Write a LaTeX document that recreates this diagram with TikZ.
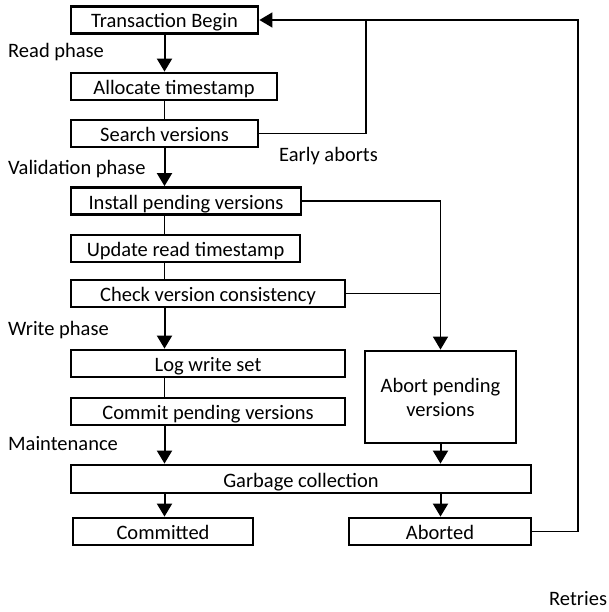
\documentclass[tikz,border=0pt]{standalone}
\usepackage{fontspec}
\setmainfont{Carlito}
\usetikzlibrary{arrows.meta}
\tikzset{
  stage/.style={draw, line width=2.8pt, inner sep=0pt, minimum height=27pt,
    text height=16pt, text depth=0pt,
    font=\fontsize{20.5}{24}\selectfont, align=center},
  phase/.style={anchor=west, inner sep=0pt, text height=16pt, text depth=0pt,
    font=\fontsize{20.5}{24}\selectfont},
  tip/.style={-{Triangle[length=13pt,width=15pt]}},
  flow/.style={line width=2pt, tip},
  link/.style={line width=1.1pt},
  back/.style={line width=1.6pt}
}

\begin{document}
\begin{tikzpicture}[x=1pt, y=-1pt]
  \useasboundingbox (0,0) rectangle (609,612);
  % main column
  \node[stage, minimum width=187pt] (tb)      at (164.5,20)  {Transaction Begin};
  \node[stage, minimum width=206pt] (alloc)   at (174,86.5)  {Allocate timestamp};
  \node[stage, minimum width=187pt] (search)  at (164.5,133.5) {Search versions};
  \node[stage, minimum width=230pt] (install) at (186,201)   {Install pending versions};
  \node[stage, minimum width=229pt] (update)  at (185.5,248.5) {Update read timestamp};
  \node[stage, minimum width=274pt] (check)   at (208,293.5) {Check version consistency};
  \node[stage, minimum width=274pt] (logw)    at (208,363.5) {Log write set};
  \node[stage, minimum width=274pt] (commit)  at (208,411.5) {Commit pending versions};
  \node[stage, minimum width=460pt, minimum height=28pt] (gc) at (301,479) {Garbage collection};
  \node[stage, minimum width=180pt] (committed) at (163,531.5) {Committed};
  % abort branch
  \node[stage, minimum width=151pt, minimum height=92pt, text height=38pt] (abortp) at (440.5,397) {Abort pending\\versions};
  \node[stage, minimum width=182pt] (aborted) at (440,531.5) {Aborted};
  % phase labels
  \node[phase] (lread)  at (8,50)   {Read phase};
  \node[phase] (lvalid) at (8,167)  {Validation phase};
  \node[phase] (learly) at (279,154) {Early aborts};
  \node[phase] (lwrite) at (8,327)  {Write phase};
  \node[phase] (lmaint) at (8,442)  {Maintenance};
  \node[phase] (lretry) at (549,597) {Retries};
  \coordinate (ea) at (366,20);
  \coordinate (rt) at (578,20);
  % connectors
  \draw[flow] (tb.south) -- (alloc.north -| tb.south);
  \draw[link] (alloc.south -| tb.south) -- (search.north -| tb.south);
  \draw[flow] (search.south -| tb.south) -- (install.north -| tb.south);
  \draw[link] (install.south -| tb.south) -- (update.north -| tb.south);
  \draw[link] (update.south -| tb.south) -- (check.north -| tb.south);
  \draw[flow] (check.south -| tb.south) -- (logw.north -| tb.south);
  \draw[link] (logw.south -| tb.south) -- (commit.north -| tb.south);
  \draw[flow] (commit.south -| tb.south) -- (gc.north -| tb.south);
  \draw[flow] (gc.south -| tb.south) -- (committed.north -| tb.south);
  \draw[back, tip] (install.east) -| (abortp.north);
  \draw[back] (check.east) -- (check.east -| abortp.north);
  \draw[flow] (abortp.south) -- (gc.north -| abortp.south);
  \draw[flow] (gc.south -| abortp.south) -- (aborted.north -| abortp.south);
  \draw[back] (search.east) -| (ea);
  \draw[back, tip] (aborted.east) -| (rt) -- (tb.east);
\end{tikzpicture}
\end{document}
